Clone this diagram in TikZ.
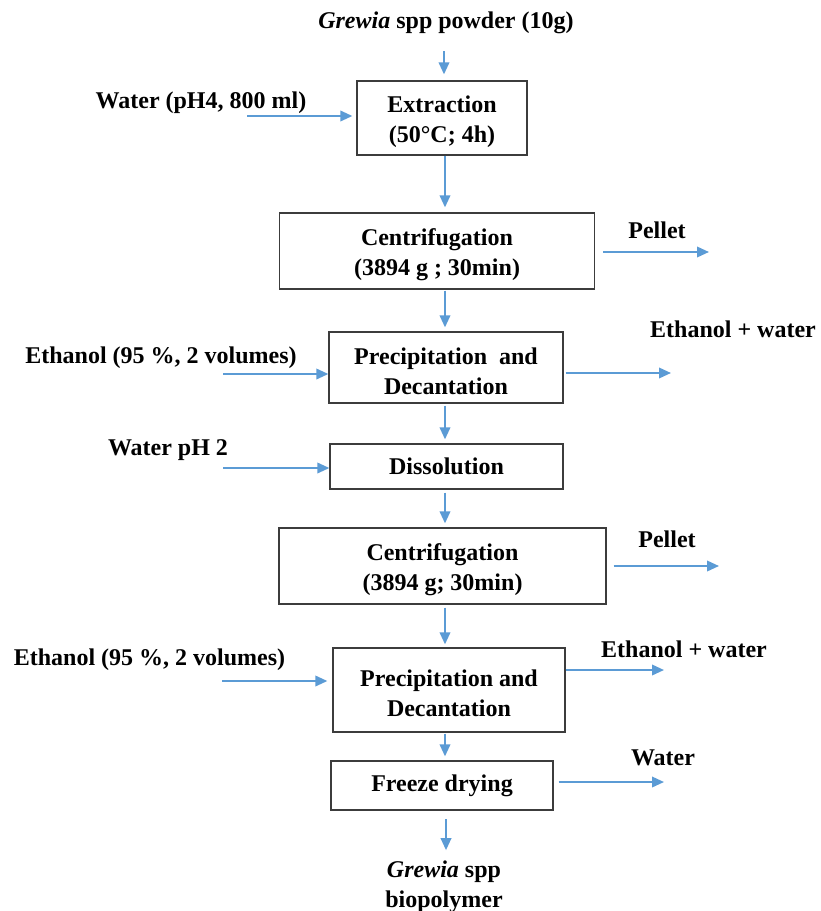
\documentclass[tikz,border=0pt]{standalone}
\usepackage{fontspec}
\setmainfont{Liberation Serif}
\usetikzlibrary{arrows.meta}
\definecolor{arrblue}{RGB}{91,155,213}
\definecolor{boxgray}{RGB}{60,60,60}
\newcommand\toppad{\rule{0pt}{24pt}}
\begin{document}
\begin{tikzpicture}[x=1pt,y=-1pt,
  txt/.style={font=\fontsize{24}{30}\selectfont\bfseries},
  box/.style={txt,draw=boxgray,line width=1.3pt,inner sep=0pt,align=center},
  lbl/.style={txt,inner sep=0pt,align=center,anchor=base},
  arr/.style={draw=arrblue,line width=2pt,-{Triangle[length=12pt,width=10.5pt]}}
]
\useasboundingbox[fill=white] (0,0) rectangle (820,911);

% boxes
\node[box,minimum width=170pt,minimum height=74pt] (ext) at (442,118) {\toppad Extraction\\(50°C; 4h)};
\node[box,minimum width=315pt,minimum height=76pt] (cen1) at (437,251) {\toppad Centrifugation\\(3894 g ; 30min)};
\node[box,minimum width=234pt,minimum height=71pt] (pre1) at (446,367.5) {\toppad Precipitation\ \ and\\Decantation};
\node[box,minimum width=233pt,minimum height=45pt] (dis) at (446.5,466.5) {Dissolution};
\node[box,minimum width=327pt,minimum height=76pt] (cen2) at (442.5,566) {\toppad Centrifugation\\(3894 g; 30min)};
\node[box,minimum width=232pt,minimum height=84pt] (pre2) at (449,690) {\toppad Precipitation and\\Decantation};
\node[box,minimum width=222pt,minimum height=49pt] (fd) at (442,785.5) {Freeze drying};

% labels
\node[lbl] (src) at (446,28) {\textit{Grewia} spp powder (10g)};
\node[lbl] (lw1) at (201,108) {Water (pH4, 800 ml)};
\node[lbl] (lp1) at (657,238) {Pellet};
\node[lbl] (lew1) at (733,337) {Ethanol + water};
\node[lbl] (le1) at (161,363) {Ethanol (95 \%, 2 volumes)};
\node[lbl] (lw2) at (168,455) {Water pH 2};
\node[lbl] (lp2) at (667,547) {Pellet};
\node[lbl] (le2) at (149.5,665) {Ethanol (95 \%, 2 volumes)};
\node[lbl] (lew2) at (684,657) {Ethanol + water};
\node[lbl] (lw3) at (663,765) {Water};
\node[lbl] (prod) at (444,907) {\textit{Grewia} spp\\biopolymer};

% free ends
\coordinate (ax) at (445,0);
\coordinate (t0) at (444,51);
\coordinate (i1) at (247,116);
\coordinate (o1) at (709,252);
\coordinate (i2) at (223,374);
\coordinate (o2) at (671,373);
\coordinate (i3) at (223,468);
\coordinate (o3) at (719,566);
\coordinate (i4) at (222,681);
\coordinate (o4) at (664,670);
\coordinate (o5) at (664,782);
\coordinate (b0) at (446,819);

% vertical flow
\draw[arr,shorten >=6pt] (t0) -- (ext.north -| t0);
\draw[arr,shorten >=5pt] (ext.south -| ax) -- (cen1.north -| ax);
\draw[arr,shorten <=1pt,shorten >=4pt] (cen1.south -| ax) -- (pre1.north -| ax);
\draw[arr,shorten <=2pt,shorten >=4pt] (pre1.south -| ax) -- (dis.north -| ax);
\draw[arr,shorten <=3pt,shorten >=4pt] (dis.south -| ax) -- (cen2.north -| ax);
\draw[arr,shorten <=3pt,shorten >=3pt] (cen2.south -| ax) -- (pre2.north -| ax);
\draw[arr,shorten <=1pt,shorten >=4pt] (pre2.south -| ax) -- (fd.north -| ax);
\draw[arr,shorten >=10pt] (b0) -- (prod.north -| b0);

% side inputs
\draw[arr,shorten >=4pt] (i1) -- (ext.west |- i1);
\draw[arr] (i2) -- (pre1.west |- i2);
\draw[arr] (i3) -- (dis.west |- i3);
\draw[arr,shorten >=5pt] (i4) -- (pre2.west |- i4);

% side outputs
\draw[arr,shorten <=8pt] (cen1.east |- o1) -- (o1);
\draw[arr,shorten <=2pt] (pre1.east |- o2) -- (o2);
\draw[arr,shorten <=7pt] (cen2.east |- o3) -- (o3);
\draw[arr] (pre2.east |- o4) -- (o4);
\draw[arr,shorten <=5pt] (fd.east |- o5) -- (o5);
\end{tikzpicture}
\end{document}
